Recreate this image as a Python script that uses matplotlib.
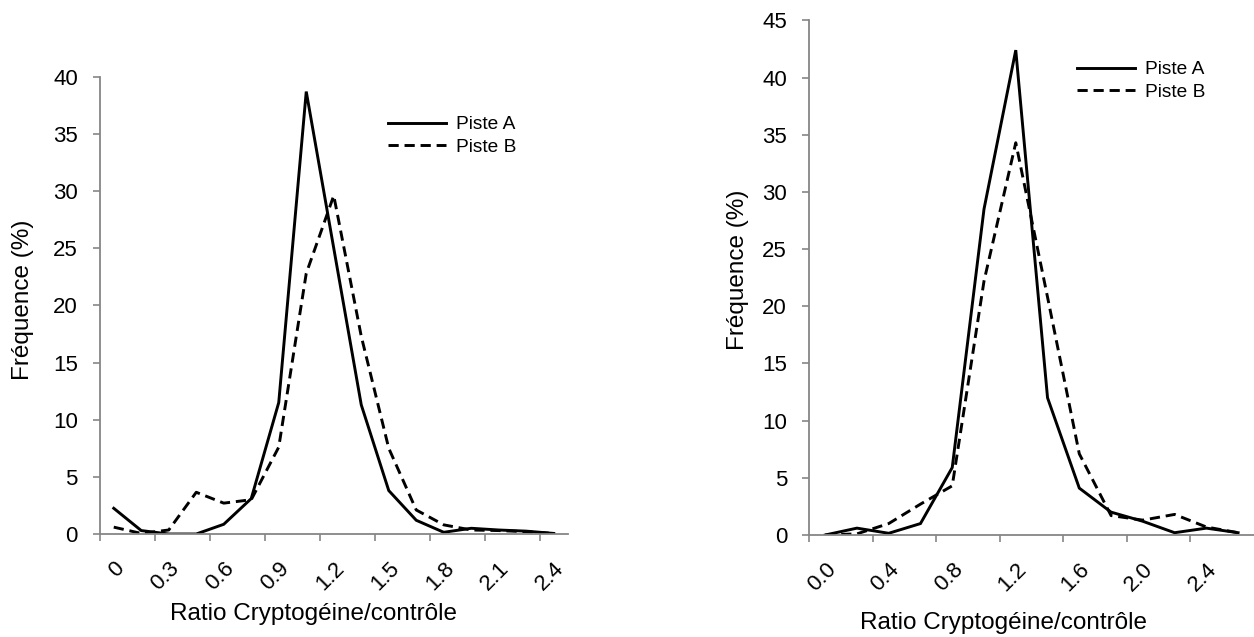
import matplotlib
matplotlib.use("Agg")
import matplotlib.pyplot as plt
import numpy as np

plt.rcParams['font.family'] = ['Liberation Sans', 'DejaVu Sans']

# left panel : categories 0 .. 2.4 by 0.15
ratio_left = ["0", "0.15", "0.3", "0.45", "0.6", "0.75", "0.9", "1.05", "1.2",
              "1.35", "1.5", "1.65", "1.8", "1.95", "2.1", "2.25", "2.4"]
left_a = [2.25, 0.3, 0.0, 0.0, 0.85, 3.1, 11.5, 38.7, 25.0, 11.3, 3.8, 1.2,
          0.15, 0.5, 0.35, 0.25, 0.05]
left_b = [0.6, 0.05, 0.35, 3.65, 2.7, 3.0, 7.6, 22.8, 29.6, 17.3, 7.5, 2.1,
          0.8, 0.35, 0.3, 0.2, 0.05]
left_ticklabels = ["0", "0.3", "0.6", "0.9", "1.2", "1.5", "1.8", "2.1", "2.4"]

# right panel : categories 0.0 .. 2.6 by 0.2
ratio_right = ["0.0", "0.2", "0.4", "0.6", "0.8", "1.0", "1.2", "1.4", "1.6",
               "1.8", "2.0", "2.2", "2.4", "2.6"]
right_a = [0.0, 0.6, 0.15, 1.0, 5.9, 28.5, 42.4, 12.0, 4.1, 2.0, 1.2, 0.2, 0.6, 0.2]
right_b = [0.0, 0.1, 1.0, 2.7, 4.3, 22.2, 34.3, 20.8, 7.1, 1.7, 1.3, 1.8, 0.7, 0.2]
right_ticklabels = ["0.0", "0.4", "0.8", "1.2", "1.6", "2.0", "2.4"]

W, H = 1254, 637
fig = plt.figure(figsize=(W / 100, H / 100), dpi=100)

def px_axes(x0, x1, ytop, ybot):
    return fig.add_axes([x0 / W, 1 - ybot / H, (x1 - x0) / W, (ybot - ytop) / H])

ax1 = px_axes(100, 567.5, 76.7, 534)
ax2 = px_axes(809.3, 1254, 20.4, 535)

axis_grey = '#868686'

def style(ax, cats, a, b, ymax, labels):
    n = len(cats)
    x = np.arange(n)
    ax.plot(x, a, color='black', lw=2.1, label='Piste A', solid_joinstyle='miter')
    ax.plot(x, b, color='black', lw=2.1, dashes=(3.5, 2.0), label='Piste B')
    ax.set_xlim(-0.5, n - 0.5)
    ax.set_ylim(0, ymax)
    ax.set_yticks(np.arange(0, ymax + 1, 5))
    # labels on every other category, tick marks between categories
    ax.set_xticks(x[::2], labels, rotation=45, ha='right', rotation_mode='anchor')
    ax.set_xticks(x[::2] - 0.5, minor=True)
    ax.tick_params(axis='x', which='major', length=0, pad=17, labelsize=16)
    ax.tick_params(axis='x', which='minor', length=5, width=1.2, color=axis_grey,
                   direction='out')
    ax.tick_params(axis='y', length=5, width=1.2, color=axis_grey, direction='out',
                   pad=11, labelsize=16)
    for s in ['top', 'right']:
        ax.spines[s].set_visible(False)
    for s in ['left', 'bottom']:
        ax.spines[s].set_color(axis_grey)
        ax.spines[s].set_linewidth(1.3)
    ax.patch.set_alpha(0)

style(ax1, ratio_left, left_a, left_b, 40, left_ticklabels)
style(ax2, ratio_right, right_a, right_b, 45, right_ticklabels)

# legends
for ax, (lx, ly) in [(ax1, (388, 116)), (ax2, (1077, 61))]:
    ax.legend(loc='upper left', bbox_to_anchor=(lx / W, 1 - ly / H),
              bbox_transform=fig.transFigure, frameon=False, fontsize=13.8,
              handlelength=3.0, handletextpad=0.55, labelspacing=0.28,
              borderpad=0, borderaxespad=0)

# axis titles
fig.text(313 / W, 1 - 614 / H, 'Ratio Cryptogéine/contrôle', ha='center', va='center',
         fontsize=17.5)
fig.text(1003 / W, 1 - 623 / H, 'Ratio Cryptogéine/contrôle', ha='center', va='center',
         fontsize=17.5)
fig.text(23 / W, 1 - 300 / H, 'Fréquence (%)', ha='center', va='center',
         rotation=90, fontsize=17.5)
fig.text(738 / W, 1 - 270 / H, 'Fréquence (%)', ha='center', va='center',
         rotation=90, fontsize=17.5)

fig.savefig('out.png', dpi=100)
